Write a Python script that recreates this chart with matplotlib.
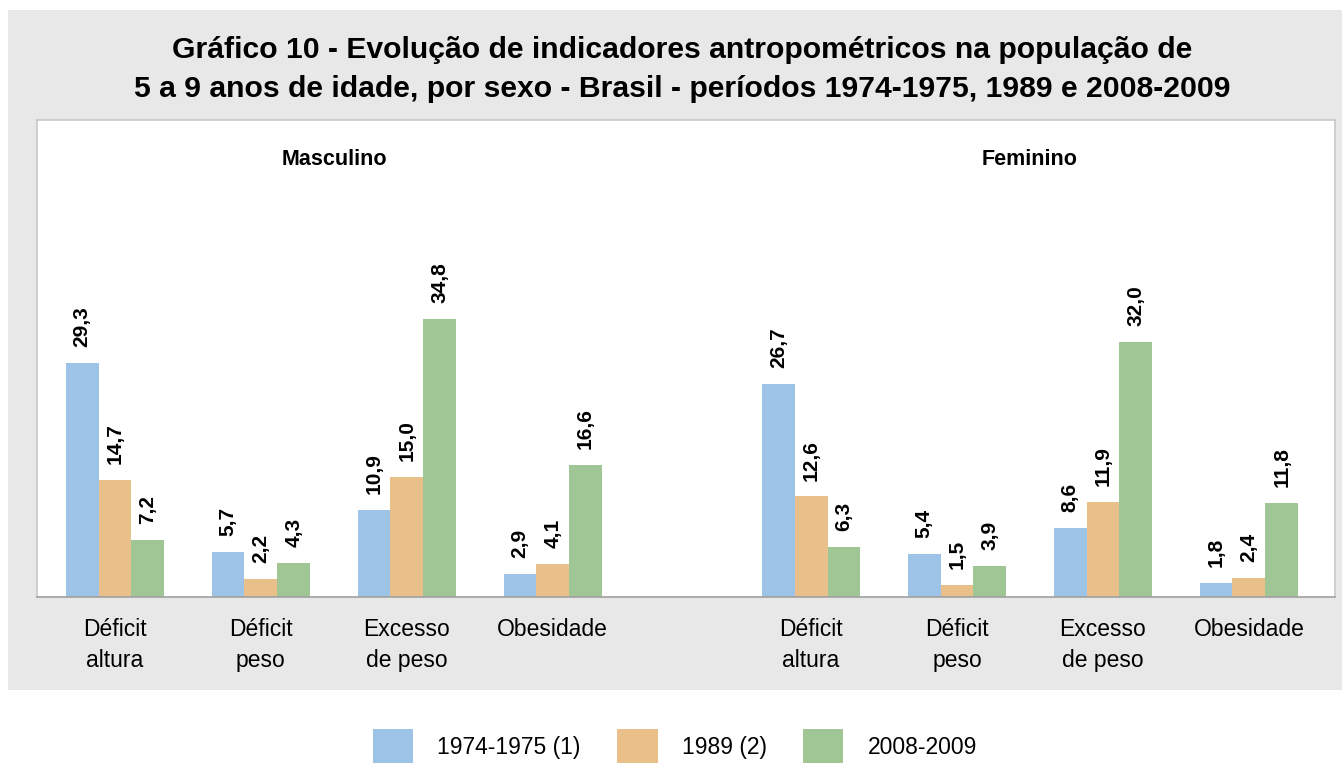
import matplotlib.pyplot as plt
from matplotlib.patches import Rectangle
from matplotlib import font_manager

# dados
categorias = ["Déficit\naltura", "Déficit\npeso", "Excesso\nde peso", "Obesidade"]
periodos = ["1974-1975 (1)", "1989 (2)", "2008-2009"]
masculino = [
    [29.3, 5.7, 10.9, 2.9],
    [14.7, 2.2, 15.0, 4.1],
    [7.2, 4.3, 34.8, 16.6],
]
feminino = [
    [26.7, 5.4, 8.6, 1.8],
    [12.6, 1.5, 11.9, 2.4],
    [6.3, 3.9, 32.0, 11.8],
]
cores = ["#9dc3e6", "#e9bf8a", "#a1c696"]

nomes = {f.name for f in font_manager.fontManager.ttflist}
fam = "Liberation Sans Narrow" if "Liberation Sans Narrow" in nomes else "Liberation Sans"
plt.rcParams["font.family"] = [fam, "DejaVu Sans"]

fig = plt.figure(figsize=(13.42, 7.63), dpi=100)
fig.patches.append(Rectangle((0.006, 0.0957), 0.994, 0.891, transform=fig.transFigure,
                             facecolor="#e8e8e8", edgecolor="none", zorder=-1))

ax = fig.add_axes([0.0276, 0.2176, 0.9672, 0.6251])
ax.set_zorder(1)
ax.set_facecolor("white")
for s in ax.spines.values():
    s.set_color("#c8c8c8")
    s.set_linewidth(1.2)
ax.spines["bottom"].set_color("#a0a0a0")

largura = 0.225
offset_fem = 4.77
x_masc = [i for i in range(len(categorias))]
x_fem = [i + offset_fem for i in range(len(categorias))]

for xs, serie_grupo in [(x_masc, masculino), (x_fem, feminino)]:
    for k, valores in enumerate(serie_grupo):
        pos = [x + (k - 1) * largura for x in xs]
        barras = ax.bar(pos, valores, width=largura, color=cores[k],
                        label=periodos[k] if xs is x_masc else None)
        for b, v in zip(barras, valores):
            ax.annotate(f"{v:.1f}".replace(".", ","),
                        (b.get_x() + b.get_width() / 2, v),
                        xytext=(0, 11.5), textcoords="offset points",
                        rotation=90, ha="center", va="bottom",
                        fontsize=15, fontweight="bold")

ax.set_xlim(-0.534, 8.36)
ax.set_ylim(0, 59.8)
ax.set_yticks([])
ax.set_xticks(x_masc + x_fem)
ax.set_xticklabels(categorias * 2, fontsize=16.5, linespacing=1.47)
ax.tick_params(axis="x", length=0, pad=15)

ax.text(1.5, 54.8, "Masculino", ha="center", va="center", fontsize=15.5, fontweight="bold")
ax.text(offset_fem + 1.5, 54.8, "Feminino", ha="center", va="center", fontsize=15.5, fontweight="bold")

fig.text(0.5086, 0.9095, "Gráfico 10 - Evolução de indicadores antropométricos na população de\n"
         "5 a 9 anos de idade, por sexo - Brasil - períodos 1974-1975, 1989 e 2008-2009",
         ha="center", va="center", fontsize=21.7, fontweight="bold", linespacing=1.5)

fig.legend(loc="center", bbox_to_anchor=(0.503, 0.022), ncol=3, frameon=False,
           fontsize=16.5, handlelength=1.75, handleheight=1.9, columnspacing=1.6,
           handletextpad=1.05, borderpad=0)

fig.savefig("out.png", dpi=100, facecolor="white")
